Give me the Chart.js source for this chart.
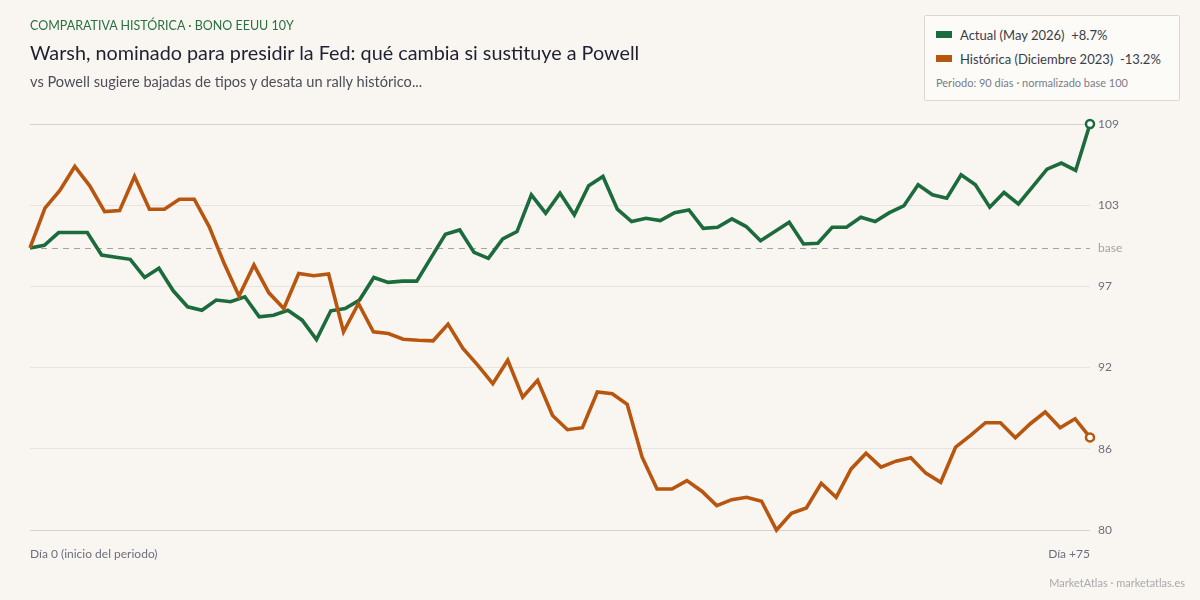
<!DOCTYPE html>
<html lang="es">
<head>
<meta charset="utf-8">
<script src="https://cdn.jsdelivr.net/npm/chart.js@4.4.1/dist/chart.umd.min.js"></script>
<style>
  html, body { margin: 0; padding: 0; background: #f9f6f1; }
  body { width: 1200px; height: 600px; position: relative; overflow: hidden; font-family: Lato, "Open Sans", sans-serif; }
  #chart { position: absolute; left: 0; top: 0; }
  .kicker { position: absolute; left: 30px; top: 18px; font-size: 12.5px; color: #2a7040; }
  .title { position: absolute; left: 30px; top: 40px; font-size: 19.8px; color: #1f2130; }
  .subtitle { position: absolute; left: 30px; top: 73px; font-size: 14.6px; color: #4c4e5a; }
  .legend { position: absolute; left: 924px; top: 15px; width: 254px; height: 84px; background: #fcfbf8; border: 1px solid #ddd7cc; border-radius: 2px; }
  .legend .row { position: absolute; left: 11px; font-size: 13px; color: #3a3c48; white-space: nowrap; }
  .legend .sw { display: inline-block; width: 16px; height: 7px; margin-right: 8px; vertical-align: 2px; }
  .legend .note { position: absolute; left: 11px; top: 60px; font-size: 11px; color: #7a7c86; }
  .footer { position: absolute; right: 15px; top: 576px; font-size: 11px; color: #a9a9ab; }
</style>
</head>
<body>
<canvas id="chart" width="1200" height="600"></canvas>

<div class="kicker">COMPARATIVA HISTÓRICA · BONO EEUU 10Y</div>
<div class="title">Warsh, nominado para presidir la Fed: qué cambia si sustituye a Powell</div>
<div class="subtitle">vs Powell sugiere bajadas de tipos y desata un rally histórico...</div>

<div class="legend">
  <div class="row" style="top:11px"><span class="sw" style="background:#1c6b3d"></span>Actual (May 2026)&nbsp; +8.7%</div>
  <div class="row" style="top:35px"><span class="sw" style="background:#b8560f"></span>Histórica (Diciembre 2023)&nbsp; -13.2%</div>
  <div class="note">Periodo: 90 días · normalizado base 100</div>
</div>

<div class="footer">MarketAtlas · marketatlas.es</div>

<script>
// series normalizadas base 100
const actualValues = [
  100.0, 100.18, 101.08, 101.08, 101.08, 99.50, 99.34, 99.20, 97.93, 98.57,
  96.99, 95.87, 95.63, 96.34, 96.22, 96.57, 95.16, 95.28, 95.63, 94.93,
  93.57, 95.59, 95.75, 96.34, 97.93, 97.58, 97.67, 97.67, 99.32, 100.96,
  101.26, 99.69, 99.27, 100.63, 101.15, 103.73, 102.44, 103.84, 102.32, 104.36,
  105.02, 102.72, 101.85, 102.08, 101.92, 102.48, 102.67, 101.38, 101.45, 102.04,
  101.50, 100.51, 101.15, 101.80, 100.28, 100.33, 101.45, 101.45, 102.15, 101.85,
  102.48, 102.95, 104.43, 103.73, 103.49, 105.13, 104.43, 102.86, 103.89, 103.09,
  104.31, 105.53, 105.96, 105.44, 108.70
];

const historicValues = [
  100.0, 102.79, 104.03, 105.72, 104.36, 102.55, 102.62, 105.02, 102.72, 102.72,
  103.42, 103.42, 101.50, 98.92, 96.62, 98.80, 96.85, 95.75, 98.21, 98.05,
  98.17, 94.11, 96.10, 94.11, 93.99, 93.59, 93.52, 93.48, 94.65, 92.94,
  91.76, 90.47, 92.12, 89.53, 90.71, 88.24, 87.24, 87.38, 89.89, 89.77,
  89.02, 85.31, 83.08, 83.08, 83.67, 82.92, 81.91, 82.33, 82.50, 82.22,
  80.20, 81.37, 81.75, 83.48, 82.50, 84.49, 85.59, 84.61, 85.03, 85.27,
  84.19, 83.55, 86.02, 86.84, 87.73, 87.73, 86.67, 87.66, 88.48, 87.38,
  88.01, 86.70
];

const BASE = 100;
const LAST_DAY = 75;
const xLabels = ["Día 0 (inicio del periodo)", "Día +75"];

const colors = {
  actual: "#1c6b3d",
  historic: "#b8560f",
  grid: "#e8e4dd",
  gridEdge: "#d8d3c9",
  tick: "#6b6f7e",
  base: "#a3a3a3",
};

// each series is stretched over the same 0..75 day window
const toPoints = vals => vals.map((v, i) => ({ x: i * LAST_DAY / (vals.length - 1), y: v }));

const yMin = Math.min(...actualValues, ...historicValues);
const yMax = Math.max(...actualValues, ...historicValues);

const baseLine = {
  id: "baseLine",
  beforeDatasetsDraw(chart) {
    const { ctx, chartArea, scales } = chart;
    const y = Math.round(scales.y.getPixelForValue(BASE)) + 0.5;
    ctx.save();
    ctx.strokeStyle = colors.base;
    ctx.lineWidth = 1.2;
    ctx.setLineDash([6, 5]);
    ctx.beginPath();
    ctx.moveTo(chartArea.left, y);
    ctx.lineTo(chartArea.right, y);
    ctx.stroke();
    ctx.restore();
  },
};

const lastPointOnly = ctx => ctx.dataIndex === ctx.dataset.data.length - 1 ? 4 : 0;

new Chart(document.getElementById("chart"), {
  type: "line",
  data: {
    datasets: [
      {
        label: "Actual (May 2026)",
        data: toPoints(actualValues),
        borderColor: colors.actual,
        borderWidth: 3.6,
        pointRadius: lastPointOnly,
        pointBackgroundColor: "#fff",
        pointBorderColor: colors.actual,
        pointBorderWidth: 2.5,
        tension: 0,
        clip: false,
        order: 2,
      },
      {
        label: "Histórica (Diciembre 2023)",
        data: toPoints(historicValues),
        borderColor: colors.historic,
        borderWidth: 3.6,
        pointRadius: lastPointOnly,
        pointBackgroundColor: "#fff",
        pointBorderColor: colors.historic,
        pointBorderWidth: 2.5,
        tension: 0,
        clip: false,
        order: 1,
      },
    ],
  },
  options: {
    responsive: false,
    animation: false,
    devicePixelRatio: 1,
    layout: { padding: { left: 30, right: 0, top: 124, bottom: 0 } },
    plugins: { legend: { display: false }, tooltip: { enabled: false } },
    scales: {
      x: {
        type: "linear",
        min: 0,
        max: LAST_DAY,
        afterBuildTicks: s => { s.ticks = [{ value: 0 }, { value: LAST_DAY }]; },
        afterFit: s => { s.height = 70; },
        grid: { display: false },
        border: { display: false },
        ticks: {
          align: "inner",
          autoSkip: false,
          maxRotation: 0,
          padding: 9,
          color: colors.tick,
          font: { family: "Lato", size: 12 },
          callback: (v, i) => xLabels[i],
        },
      },
      y: {
        position: "right",
        min: yMin,
        max: yMax,
        afterBuildTicks: s => {
          const t = [0, 1, 2, 3, 4, 5].map(k => ({ value: yMin + (yMax - yMin) * k / 5 }));
          t.push({ value: BASE });
          t.sort((a, b) => a.value - b.value);
          s.ticks = t;
        },
        afterFit: s => { s.width = 110; },
        border: { display: false },
        grid: {
          drawTicks: false,
          lineWidth: 1,
          color: c => {
            if (!c.tick) return colors.grid;
            if (c.tick.value === BASE) return "rgba(0,0,0,0)";
            if (c.tick.value === yMin || c.tick.value === yMax) return colors.gridEdge;
            return colors.grid;
          },
        },
        ticks: {
          padding: 8,
          autoSkip: false,
          font: { family: "Lato", size: 12 },
          color: c => (c.tick && c.tick.value === BASE ? colors.base : colors.tick),
          callback: v => (v === BASE ? "base" : String(Math.round(v))),
        },
      },
    },
  },
  plugins: [baseLine],
});
</script>
</body>
</html>
